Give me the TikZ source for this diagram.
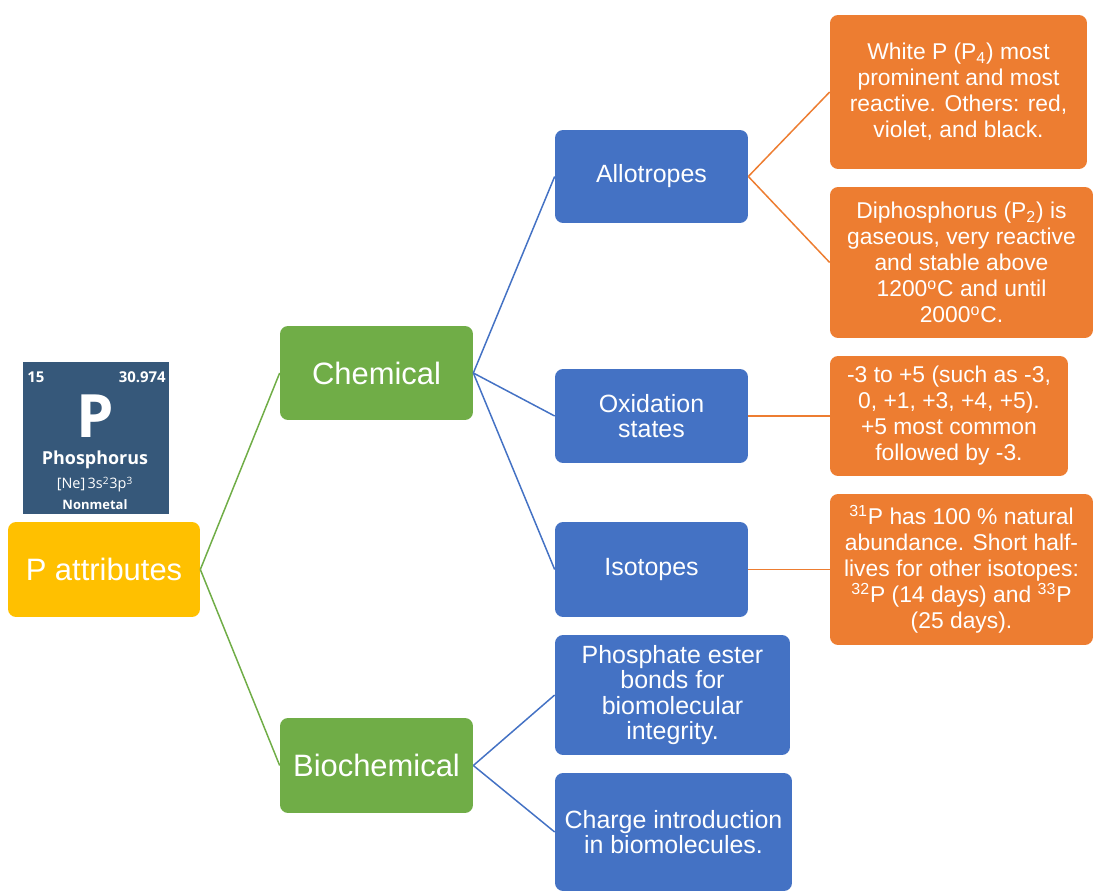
\documentclass[tikz,border=0pt]{standalone}
\usepackage{fontspec}
\setmainfont{Liberation Sans}
\newfontfamily\tilefont{Open Sans}
\usetikzlibrary{positioning}
\definecolor{pyellow}{HTML}{FFC000}
\definecolor{pgreen}{HTML}{70AD47}
\definecolor{pblue}{HTML}{4472C4}
\definecolor{porange}{HTML}{ED7D31}
\definecolor{ptile}{HTML}{36587A}

\begin{document}
\begin{tikzpicture}[
    x=0.02cm, y=-0.02cm,
    every node/.style={rounded corners=0.16cm, align=center, text=white, inner sep=0pt},
    attrbox/.style={fill=pyellow, minimum width=3.84cm, minimum height=1.9cm, font=\fontsize{17.6}{20}\selectfont},
    groupbox/.style={fill=pgreen, minimum width=3.86cm, minimum height=1.88cm, font=\fontsize{17.6}{20}\selectfont},
    topicbox/.style={fill=pblue, minimum width=3.86cm, minimum height=1.88cm, font=\fontsize{14.2}{14.4}\selectfont},
    factbox/.style={fill=porange, minimum height=3.02cm, font=\fontsize{13}{14.8}\selectfont},
    tiletext/.style={rounded corners=0pt, font=\tilefont\bfseries}
]
    \useasboundingbox (0,0) rectangle (1093,891);

    % element tile
    \node[fill=ptile, rounded corners=0pt, minimum width=2.92cm, minimum height=3.04cm] (tile) at (96,438) {};
    \node[tiletext, anchor=west, font=\tilefont\bfseries\fontsize{8.5}{10}\selectfont] (num) at (27,377) {15};
    \node[tiletext, anchor=east, font=\tilefont\bfseries\fontsize{8.5}{10}\selectfont] (mass) at (166,377) {30.974};
    \node[tiletext, anchor=base, text height=0.84cm, text depth=0pt, font=\tilefont\bfseries\fontsize{34}{38}\selectfont] (sym) at (95,438) {P};
    \node[tiletext, anchor=base, font=\tilefont\bfseries\fontsize{10.2}{12}\selectfont] (name) at (95,465) {Phosphorus};
    \node[tiletext, anchor=base, font=\tilefont\fontsize{8.2}{10}\selectfont] (conf) at (95,489) {[Ne]\,3s\textsuperscript{2}3p\textsuperscript{3}};
    \node[tiletext, anchor=base, font=\tilefont\bfseries\fontsize{7.4}{9}\selectfont] (kind) at (95,510) {Nonmetal};

    % boxes
    \node[attrbox] (attr) at (104,569.5) {P attributes};
    \node[groupbox] (chem) at (376.5,373) {Chemical};
    \node[groupbox, minimum height=1.9cm] (bio) at (376.5,765.5) {Biochemical};

    \node[topicbox, minimum height=1.86cm] (allo) at (651.5,176.5) {Allotropes};
    \node[topicbox] (oxid) at (651.5,416) {Oxidation\\states};
    \node[topicbox, minimum height=1.9cm] (iso) at (651.5,569.5) {Isotopes};
    \node[topicbox, minimum width=4.7cm, minimum height=2.4cm] (ester) at (672.5,695) {Phosphate ester\\bonds for\\biomolecular\\integrity.};
    \node[topicbox, minimum width=4.74cm, minimum height=2.36cm] (charge) at (673.5,832) {Charge introduction\\in biomolecules.};

    \node[factbox, minimum width=5.14cm, minimum height=3.08cm] (white) at (958.5,92) {White P (P\textsubscript{4}) most\\prominent and most\\reactive. Others: red,\\violet, and black.};
    \node[factbox, minimum width=5.26cm] (diph) at (961.5,262.5) {Diphosphorus (P\textsubscript{2}) is\\gaseous, very reactive\\and stable above\\1200\textsuperscript{o}C and until\\2000\textsuperscript{o}C.};
    \node[factbox, minimum width=4.76cm, minimum height=2.4cm] (range) at (949,416) {-3 to +5 (such as -3,\\0, +1, +3, +4, +5).\\+5 most common\\followed by -3.};
    \node[factbox, minimum width=5.26cm] (abund) at (961.5,569.5) {\textsuperscript{31}P has 100 \% natural\\abundance. Short half-\\lives for other isotopes:\\\textsuperscript{32}P (14 days) and \textsuperscript{33}P\\(25 days).};

    % connectors
    \draw[pgreen, line width=0.85pt] (attr.east) -- (chem.west);
    \draw[pgreen, line width=0.85pt] (attr.east) -- (bio.west);
    \draw[pblue, line width=0.85pt] (chem.east) -- (allo.west);
    \draw[pblue, line width=0.85pt] (chem.east) -- (oxid.west);
    \draw[pblue, line width=0.85pt] (chem.east) -- (iso.west);
    \draw[pblue, line width=0.85pt] (bio.east) -- (ester.west);
    \draw[pblue, line width=0.85pt] (bio.east) -- (charge.west);
    \draw[porange, line width=0.85pt] (allo.east) -- (white.west);
    \draw[porange, line width=0.85pt] (allo.east) -- (diph.west);
    \draw[porange, line width=0.85pt] (oxid.east) -- (range.west);
    \draw[porange, line width=0.85pt] (iso.east) -- (abund.west);
\end{tikzpicture}
\end{document}
